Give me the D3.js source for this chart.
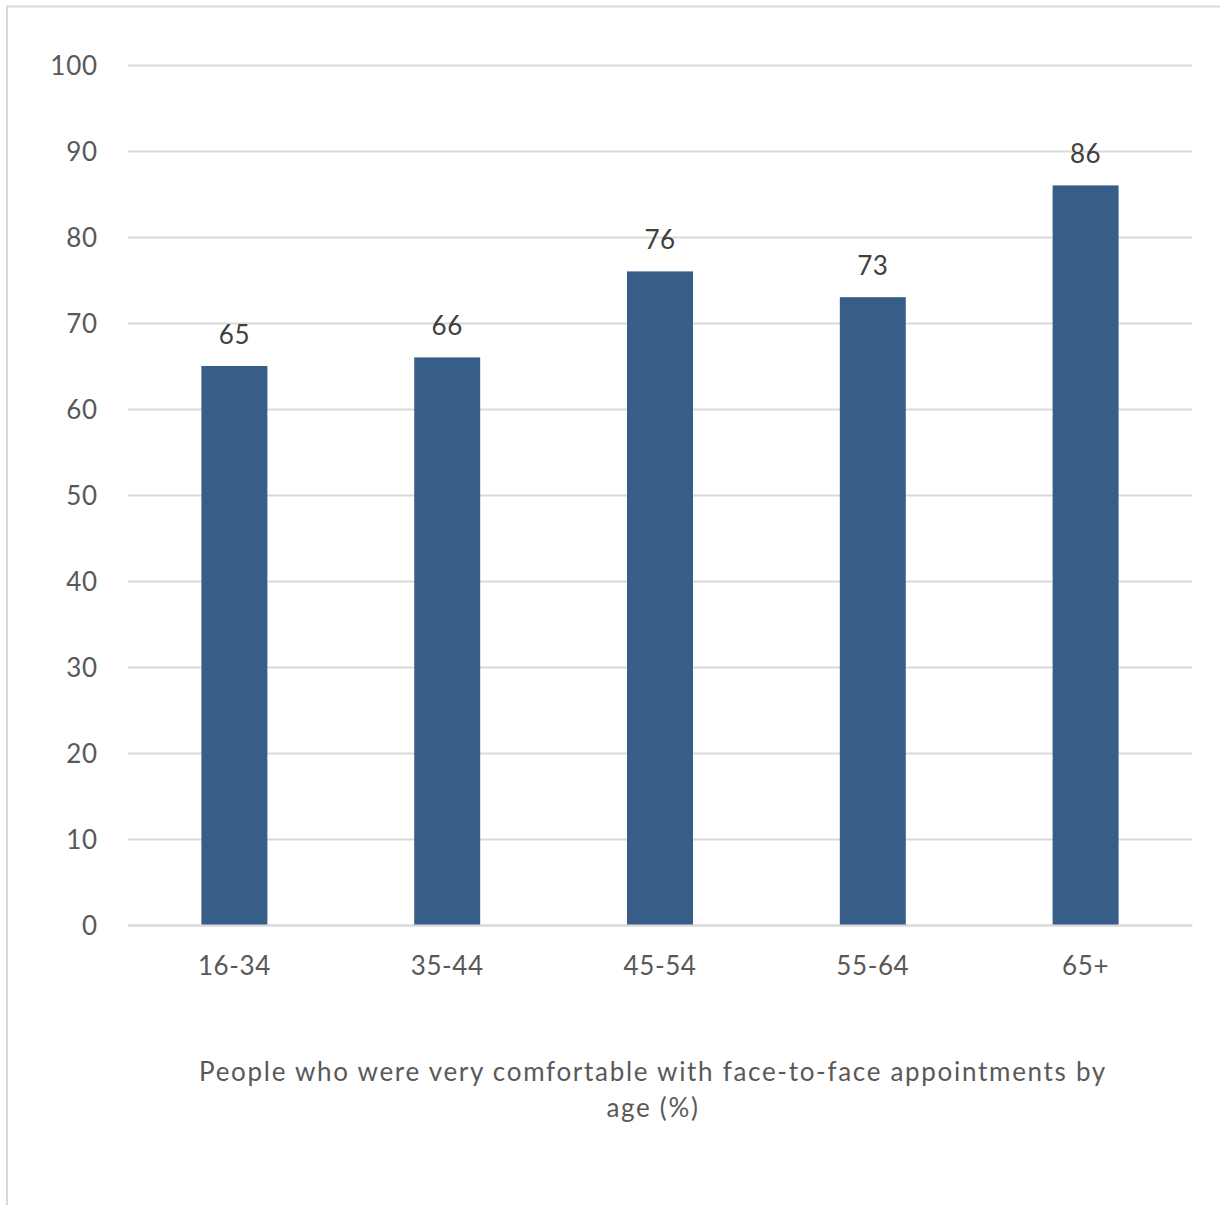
<!DOCTYPE html>
<html>
<head>
<meta charset="utf-8">
<script src="https://cdn.jsdelivr.net/npm/d3@7/dist/d3.min.js"></script>
<style>
  html, body { margin: 0; padding: 0; background: #fff; }
  svg { display: block; }
  text { font-family: Lato, "Open Sans", sans-serif; }
</style>
</head>
<body>
<svg id="chart" width="1220" height="1205"></svg>
<script>
// Share of people very comfortable with face-to-face appointments, by age group
const categories = ["16-34", "35-44", "45-54", "55-64", "65+"];
const values = [65, 66, 76, 73, 86];
const yTicks = [0, 10, 20, 30, 40, 50, 60, 70, 80, 90, 100];
const titleLines = ["People who were very comfortable with face-to-face appointments by", "age (%)"];

const FONT = "Lato, 'Open Sans', sans-serif";
const FS = 26;

const svg = d3.select("#chart");
const margin = { left: 128, right: 28, top: 65, bottom: 280 };
const W = 1220, H = 1205;
const plotW = W - margin.left - margin.right;
const plotH = H - margin.top - margin.bottom;

// Frame lines (top and left)
svg.append("line").attr("x1", 6).attr("x2", W).attr("y1", 6.5).attr("y2", 6.5)
  .attr("stroke", "#d9d9d9").attr("stroke-width", 2);
svg.append("line").attr("x1", 7).attr("x2", 7).attr("y1", 6).attr("y2", H)
  .attr("stroke", "#d9d9d9").attr("stroke-width", 2);

const x = d3.scaleBand().domain(categories).range([0, plotW]).paddingInner(0.69).paddingOuter(0.345);
const y = d3.scaleLinear().domain([0, 100]).range([plotH, 0]);

const g = svg.append("g").attr("transform", `translate(${margin.left},${margin.top})`);

// Horizontal gridlines with value labels
const yAxis = d3.axisLeft(y).tickValues(yTicks).tickSize(-plotW).tickPadding(30);
const ya = g.append("g").call(yAxis);
ya.select(".domain").remove();
ya.selectAll(".tick line").attr("stroke", "#d9d9d9").attr("stroke-width", 2);
ya.selectAll(".tick text").attr("fill", "#595959").attr("font-size", FS)
  .attr("letter-spacing", 0.8).attr("dy", "0.36em")
  .style("font-family", FONT);

// Bars
g.selectAll("rect.bar").data(values).join("rect")
  .attr("class", "bar")
  .attr("x", (d, i) => x(categories[i]))
  .attr("width", x.bandwidth())
  .attr("y", d => y(d))
  .attr("height", d => plotH - y(d))
  .attr("fill", "#375d89");

// Value labels above bars
g.selectAll("text.val").data(values).join("text")
  .attr("class", "val")
  .attr("x", (d, i) => x(categories[i]) + x.bandwidth() / 2)
  .attr("y", d => y(d) - 22)
  .attr("text-anchor", "middle")
  .attr("fill", "#404040").attr("font-size", FS)
  .attr("letter-spacing", 0.5)
  .text(d => d);

// Category axis
const xAxis = d3.axisBottom(x).tickSize(0).tickPadding(32);
const xa = g.append("g").attr("transform", `translate(0,${plotH})`).call(xAxis);
xa.select(".domain").attr("stroke", "#d9d9d9").attr("stroke-width", 2);
xa.selectAll(".tick text").attr("fill", "#595959").attr("font-size", FS)
  .attr("letter-spacing", 0.6)
  .style("font-family", FONT);

// Axis title, two lines
const title = svg.append("text").attr("text-anchor", "middle").attr("fill", "#595959")
  .attr("font-size", FS).attr("letter-spacing", 1.7);
titleLines.forEach((t, i) => {
  title.append("tspan").attr("x", 653).attr("y", 1081 + i * 36).text(t);
});
</script>
</body>
</html>
